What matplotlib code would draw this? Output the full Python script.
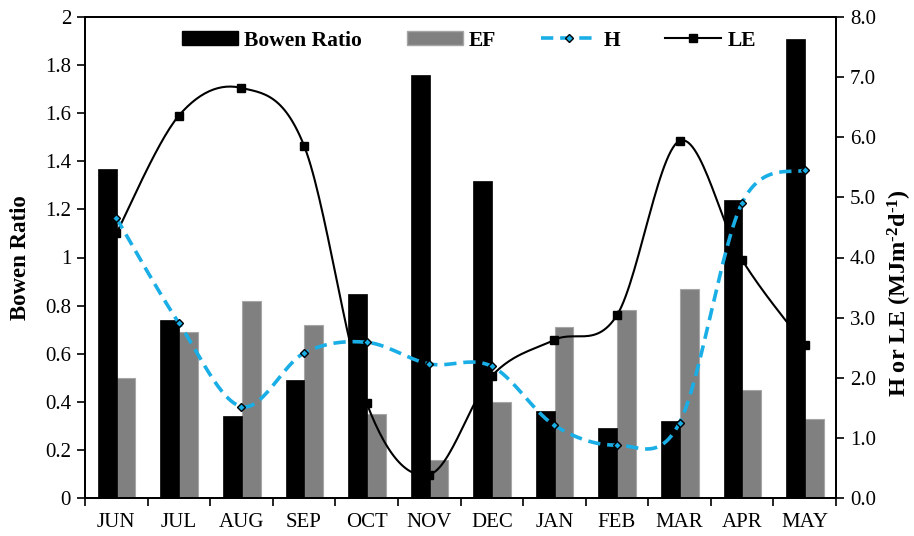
import numpy as np
import matplotlib
matplotlib.use("Agg")
import matplotlib.pyplot as plt
from matplotlib.lines import Line2D
from matplotlib.patches import Patch
from matplotlib.transforms import blended_transform_factory

plt.rcParams['font.family'] = ['Liberation Serif', 'DejaVu Serif']
plt.rcParams['mathtext.fontset'] = 'custom'
plt.rcParams['mathtext.rm'] = 'Liberation Serif:bold'
plt.rcParams['mathtext.it'] = 'Liberation Serif:bold'
plt.rcParams['mathtext.bf'] = 'Liberation Serif:bold'

months = ["JUN", "JUL", "AUG", "SEP", "OCT", "NOV", "DEC", "JAN", "FEB", "MAR", "APR", "MAY"]
bowen_ratio = [1.37, 0.74, 0.34, 0.49, 0.85, 1.76, 1.32, 0.36, 0.29, 0.32, 1.24, 1.91]
ef = [0.50, 0.69, 0.82, 0.72, 0.35, 0.16, 0.40, 0.71, 0.78, 0.87, 0.45, 0.33]
h_vals = [4.66, 2.91, 1.52, 2.41, 2.59, 2.23, 2.19, 1.21, 0.88, 1.25, 4.91, 5.46]
le_vals = [4.40, 6.36, 6.82, 5.86, 1.58, 0.39, 2.03, 2.63, 3.04, 5.94, 3.96, 2.55]
left_ticks = [0, 0.2, 0.4, 0.6, 0.8, 1, 1.2, 1.4, 1.6, 1.8, 2]
right_ticks = [0, 1, 2, 3, 4, 5, 6, 7, 8]


def smooth(xs, ys, n=30):
    """Catmull-Rom (Excel-like) smoothing through the given points."""
    xs = np.asarray(xs, float)
    ys = np.asarray(ys, float)
    px = np.concatenate([[xs[0]], xs, [xs[-1]]])
    py = np.concatenate([[ys[0]], ys, [ys[-1]]])
    outx, outy = [], []
    t = np.linspace(0, 1, n)
    for i in range(1, len(px) - 2):
        p0x, p1x, p2x, p3x = px[i - 1], px[i], px[i + 1], px[i + 2]
        p0y, p1y, p2y, p3y = py[i - 1], py[i], py[i + 1], py[i + 2]
        c1x = p1x + (p2x - p0x) / 6
        c1y = p1y + (p2y - p0y) / 6
        c2x = p2x - (p3x - p1x) / 6
        c2y = p2y - (p3y - p1y) / 6
        bx = (1 - t) ** 3 * p1x + 3 * (1 - t) ** 2 * t * c1x + 3 * (1 - t) * t ** 2 * c2x + t ** 3 * p2x
        by = (1 - t) ** 3 * p1y + 3 * (1 - t) ** 2 * t * c1y + 3 * (1 - t) * t ** 2 * c2y + t ** 3 * p2y
        if i > 1:
            bx, by = bx[1:], by[1:]
        outx.extend(bx)
        outy.extend(by)
    return np.array(outx), np.array(outy)


fig = plt.figure(figsize=(9.14, 5.36), dpi=100)
ax = fig.add_axes([85 / 914, 38 / 536, (836 - 85) / 914, (498 - 17) / 536])
axr = ax.twinx()
ax.set_zorder(1)
axr.set_zorder(2)
axr.patch.set_visible(False)

x = np.arange(len(months))
ax.bar(x + 0.155, ef, width=0.3, color='#808080', edgecolor='#a6a6a6', linewidth=0.8, zorder=1)
ax.bar(x - 0.145, bowen_ratio, width=0.3, color='black', edgecolor='black', linewidth=0.5, zorder=3)

# LE on right scale but layered between the two bar series
le_tr = blended_transform_factory(ax.transData, axr.transData)
sx, sy = smooth(x, le_vals)
ax.plot(sx, sy, color='black', lw=1.5, transform=le_tr, zorder=2)
ax.plot(x, le_vals, ls='none', marker='s', ms=5.2, color='black', transform=le_tr, zorder=2)

hx, hy = smooth(x, h_vals)
axr.plot(hx, hy, color='#1aaee6', lw=2.6, dashes=(3.4, 1.9), zorder=3)
axr.plot(x, h_vals, ls='none', marker='D', ms=4.0, mfc='#1aaee6', mec='black', mew=1.0, zorder=4)

ax.set_xlim(-0.5, len(months) - 0.5)
ax.set_ylim(0, 2)
axr.set_ylim(0, 8)

ax.set_xticks(np.arange(len(months) + 1) - 0.5)
ax.set_xticklabels([])
ax.set_xticks(x, minor=True)
ax.set_xticklabels(months, minor=True, fontsize=15)
ax.tick_params(axis='x', which='minor', length=0, pad=11)
ax.tick_params(axis='x', which='major', length=6, width=1.2, direction='out')

ax.set_yticks(left_ticks)
ax.set_yticklabels(['%g' % v for v in left_ticks], fontsize=15)
ax.tick_params(axis='y', length=6, width=1.2, direction='out', pad=4)
axr.set_yticks(right_ticks)
axr.set_yticklabels(['%.1f' % v for v in right_ticks], fontsize=15)
axr.tick_params(axis='y', length=6, width=1.2, direction='out', pad=4)

for a in (ax, axr):
    for s in a.spines.values():
        s.set_linewidth(1.3)

ax.set_ylabel('Bowen Ratio', fontsize=16.5, fontweight='bold')
ax.yaxis.set_label_coords(-0.072, 0.5)
axr.set_ylabel(r'H or LE (MJm$^{\text{-}2}$d$^{\text{-}1}$)', fontsize=17.5, fontweight='bold')
axr.yaxis.set_label_coords(1.067, 0.425)

handles = [
    Patch(facecolor='black', edgecolor='black'),
    Patch(facecolor='#808080', edgecolor='#a6a6a6'),
    Line2D([], [], color='#1aaee6', lw=2.6, dashes=(3.4, 1.9), marker='D', ms=4.0,
           mfc='#1aaee6', mec='black', mew=1.0),
    Line2D([], [], color='black', lw=1.5, marker='s', ms=5.2),
]
labels = ['Bowen Ratio', 'EF', 'H', 'LE']
leg = axr.legend(handles, labels, loc='center', bbox_to_anchor=(0.511, 0.951), ncol=4,
                 frameon=False, prop={'weight': 'bold', 'size': 15.5}, handlelength=2.6,
                 handletextpad=0.28, columnspacing=2.1, numpoints=1, handleheight=0.6)

fig.savefig('out.png', dpi=100)
